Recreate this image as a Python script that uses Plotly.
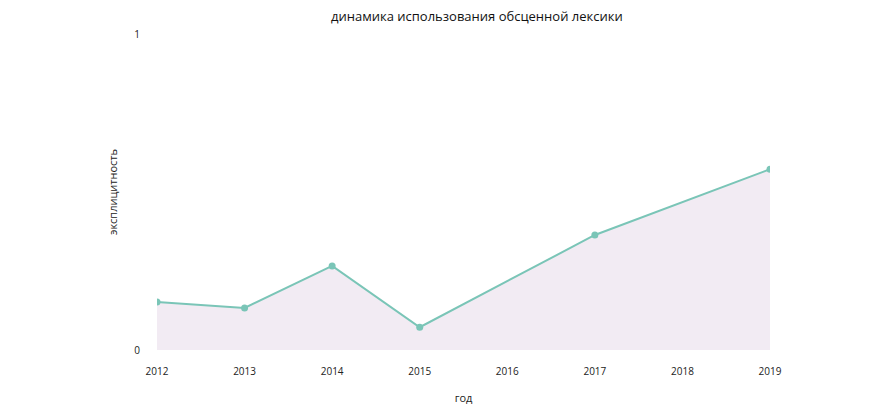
import plotly.graph_objects as go

# Data
YEARS = [2012, 2013, 2014, 2015, 2017, 2019]
EXPLICITNESS = [0.152, 0.133, 0.266, 0.072, 0.364, 0.572]

X_TICKS = [2012, 2013, 2014, 2015, 2016, 2017, 2018, 2019]
Y_TICKS = [0, 1]

LINE_COLOR = "rgb(122,197,183)"
FILL_COLOR = "rgb(242,235,243)"

fig = go.Figure()
fig.add_trace(go.Scatter(
    x=YEARS,
    y=EXPLICITNESS,
    mode="lines+markers",
    fill="tozeroy",
    fillcolor=FILL_COLOR,
    line=dict(color=LINE_COLOR, width=2),
    marker=dict(color=LINE_COLOR, size=7),
    showlegend=False,
))

# page body has an 8px margin, so margins are shifted to compensate
fig.update_layout(
    width=888,
    height=410,
    margin=dict(l=149, r=126, t=26, b=68),
    paper_bgcolor="white",
    plot_bgcolor="white",
    font=dict(family="Open Sans, sans-serif", size=10, color="#222"),
    title=dict(
        text="динамика использования обсценной лексики",
        x=0.528, xanchor="center", y=1.0, yanchor="top",
        pad=dict(t=4),
        font=dict(size=13, color="#111"),
    ),
)

fig.update_xaxes(
    range=[2012, 2019],
    tickvals=X_TICKS,
    showgrid=False,
    zeroline=False,
    showline=False,
    ticklabelstandoff=14,
    title=dict(text="год", font=dict(size=11), standoff=17),
)
fig.update_yaxes(
    range=[0, 1],
    tickvals=Y_TICKS,
    showgrid=False,
    zeroline=False,
    showline=False,
    ticklabelstandoff=16,
    title=dict(text="эксплицитность", font=dict(size=11), standoff=14),
)

fig.write_html("out.html")
